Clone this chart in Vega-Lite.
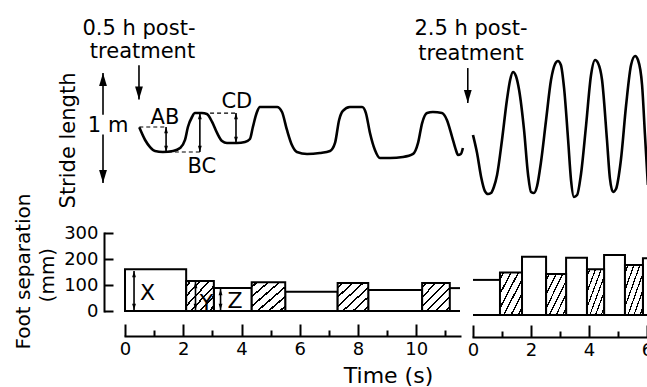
{
  "$schema": "https://vega.github.io/schema/vega-lite/v6.json",
  "width": 647,
  "height": 387,
  "autosize": "none",
  "padding": 0,
  "background": "white",
  "config": {
    "view": {"stroke": null},
    "font": "DejaVu Sans",
    "axis": {"grid": false, "domainColor": "black", "tickColor": "black", "labelColor": "black", "titleColor": "black", "domainWidth": 2, "tickWidth": 2, "labelFontSize": 18, "titleFontWeight": "normal", "labelFlush": false, "labelOverlap": false, "domainCap": "square", "titleLimit": 500, "labelLimit": 200},
    "text": {"font": "DejaVu Sans", "color": "black"}
  },
  "datasets": {
    "curve": [
      {"session": "0.5 h", "t": 0.49, "val": 0.506}, {"session": "0.5 h", "t": 0.69, "val": 0.391}, {"session": "0.5 h", "t": 0.86, "val": 0.327}, {"session": "0.5 h", "t": 1.03, "val": 0.291}, {"session": "0.5 h", "t": 1.30, "val": 0.282}, {"session": "0.5 h", "t": 1.65, "val": 0.291}, {"session": "0.5 h", "t": 1.89, "val": 0.318}, {"session": "0.5 h", "t": 2.06, "val": 0.391}, {"session": "0.5 h", "t": 2.16, "val": 0.509}, {"session": "0.5 h", "t": 2.30, "val": 0.600}, {"session": "0.5 h", "t": 2.40, "val": 0.636}, {"session": "0.5 h", "t": 2.64, "val": 0.636}, {"session": "0.5 h", "t": 2.81, "val": 0.627}, {"session": "0.5 h", "t": 2.99, "val": 0.555}, {"session": "0.5 h", "t": 3.16, "val": 0.455}, {"session": "0.5 h", "t": 3.33, "val": 0.382}, {"session": "0.5 h", "t": 3.50, "val": 0.364}, {"session": "0.5 h", "t": 3.84, "val": 0.364}, {"session": "0.5 h", "t": 4.12, "val": 0.373}, {"session": "0.5 h", "t": 4.29, "val": 0.400}, {"session": "0.5 h", "t": 4.39, "val": 0.509}, {"session": "0.5 h", "t": 4.53, "val": 0.645}, {"session": "0.5 h", "t": 4.63, "val": 0.691}, {"session": "0.5 h", "t": 4.81, "val": 0.691}, {"session": "0.5 h", "t": 5.22, "val": 0.691}, {"session": "0.5 h", "t": 5.39, "val": 0.645}, {"session": "0.5 h", "t": 5.56, "val": 0.482}, {"session": "0.5 h", "t": 5.73, "val": 0.345}, {"session": "0.5 h", "t": 5.90, "val": 0.282}, {"session": "0.5 h", "t": 6.25, "val": 0.264}, {"session": "0.5 h", "t": 6.69, "val": 0.273}, {"session": "0.5 h", "t": 7.04, "val": 0.291}, {"session": "0.5 h", "t": 7.21, "val": 0.364}, {"session": "0.5 h", "t": 7.35, "val": 0.573}, {"session": "0.5 h", "t": 7.48, "val": 0.655}, {"session": "0.5 h", "t": 7.72, "val": 0.691}, {"session": "0.5 h", "t": 8.14, "val": 0.691}, {"session": "0.5 h", "t": 8.27, "val": 0.636}, {"session": "0.5 h", "t": 8.41, "val": 0.455}, {"session": "0.5 h", "t": 8.58, "val": 0.300}, {"session": "0.5 h", "t": 8.75, "val": 0.227}, {"session": "0.5 h", "t": 9.10, "val": 0.227}, {"session": "0.5 h", "t": 9.54, "val": 0.236}, {"session": "0.5 h", "t": 9.89, "val": 0.264}, {"session": "0.5 h", "t": 10.06, "val": 0.364}, {"session": "0.5 h", "t": 10.20, "val": 0.545}, {"session": "0.5 h", "t": 10.37, "val": 0.636}, {"session": "0.5 h", "t": 10.57, "val": 0.645}, {"session": "0.5 h", "t": 10.88, "val": 0.636}, {"session": "0.5 h", "t": 11.05, "val": 0.573}, {"session": "0.5 h", "t": 11.23, "val": 0.418}, {"session": "0.5 h", "t": 11.36, "val": 0.300}, {"session": "0.5 h", "t": 11.43, "val": 0.255}, {"session": "0.5 h", "t": 11.53, "val": 0.264}, {"session": "0.5 h", "t": 11.60, "val": 0.318},
      {"session": "2.5 h", "t": 0.00, "val": 0.436}, {"session": "2.5 h", "t": 0.14, "val": 0.273}, {"session": "2.5 h", "t": 0.28, "val": 0.055}, {"session": "2.5 h", "t": 0.41, "val": -0.073}, {"session": "2.5 h", "t": 0.52, "val": -0.100}, {"session": "2.5 h", "t": 0.62, "val": -0.091}, {"session": "2.5 h", "t": 0.72, "val": -0.036}, {"session": "2.5 h", "t": 0.83, "val": 0.073}, {"session": "2.5 h", "t": 1.00, "val": 0.391}, {"session": "2.5 h", "t": 1.17, "val": 0.755}, {"session": "2.5 h", "t": 1.28, "val": 0.936}, {"session": "2.5 h", "t": 1.38, "val": 1.009}, {"session": "2.5 h", "t": 1.48, "val": 0.973}, {"session": "2.5 h", "t": 1.59, "val": 0.845}, {"session": "2.5 h", "t": 1.76, "val": 0.482}, {"session": "2.5 h", "t": 1.90, "val": 0.073}, {"session": "2.5 h", "t": 2.00, "val": -0.082}, {"session": "2.5 h", "t": 2.10, "val": -0.091}, {"session": "2.5 h", "t": 2.21, "val": -0.027}, {"session": "2.5 h", "t": 2.34, "val": 0.182}, {"session": "2.5 h", "t": 2.52, "val": 0.573}, {"session": "2.5 h", "t": 2.69, "val": 0.936}, {"session": "2.5 h", "t": 2.83, "val": 1.082}, {"session": "2.5 h", "t": 2.93, "val": 1.109}, {"session": "2.5 h", "t": 3.03, "val": 1.073}, {"session": "2.5 h", "t": 3.14, "val": 0.864}, {"session": "2.5 h", "t": 3.28, "val": 0.391}, {"session": "2.5 h", "t": 3.38, "val": 0.027}, {"session": "2.5 h", "t": 3.48, "val": -0.127}, {"session": "2.5 h", "t": 3.59, "val": -0.109}, {"session": "2.5 h", "t": 3.72, "val": 0.073}, {"session": "2.5 h", "t": 3.90, "val": 0.527}, {"session": "2.5 h", "t": 4.07, "val": 0.982}, {"session": "2.5 h", "t": 4.21, "val": 1.118}, {"session": "2.5 h", "t": 4.31, "val": 1.091}, {"session": "2.5 h", "t": 4.45, "val": 0.936}, {"session": "2.5 h", "t": 4.62, "val": 0.391}, {"session": "2.5 h", "t": 4.72, "val": 0.045}, {"session": "2.5 h", "t": 4.83, "val": -0.082}, {"session": "2.5 h", "t": 4.93, "val": -0.055}, {"session": "2.5 h", "t": 5.10, "val": 0.209}, {"session": "2.5 h", "t": 5.28, "val": 0.709}, {"session": "2.5 h", "t": 5.45, "val": 1.073}, {"session": "2.5 h", "t": 5.59, "val": 1.155}, {"session": "2.5 h", "t": 5.69, "val": 1.118}, {"session": "2.5 h", "t": 5.83, "val": 0.891}, {"session": "2.5 h", "t": 5.93, "val": 0.436}, {"session": "2.5 h", "t": 6.03, "val": -0.018}
    ],
    "steps": [
      {"session": "0.5 h", "t": 0.0, "t_end": 2.1, "val": 161, "lead": "right", "complete": true},
      {"session": "0.5 h", "t": 2.1, "t_end": 3.05, "val": 115, "lead": "left", "complete": true},
      {"session": "0.5 h", "t": 3.05, "t_end": 4.35, "val": 88, "lead": "right", "complete": true},
      {"session": "0.5 h", "t": 4.35, "t_end": 5.5, "val": 111, "lead": "left", "complete": true},
      {"session": "0.5 h", "t": 5.5, "t_end": 7.3, "val": 74, "lead": "right", "complete": true},
      {"session": "0.5 h", "t": 7.3, "t_end": 8.35, "val": 108, "lead": "left", "complete": true},
      {"session": "0.5 h", "t": 8.35, "t_end": 10.2, "val": 81, "lead": "right", "complete": true},
      {"session": "0.5 h", "t": 10.2, "t_end": 11.15, "val": 108, "lead": "left", "complete": true},
      {"session": "0.5 h", "t": 11.15, "t_end": 11.5, "val": 88, "lead": "right", "complete": false},
      {"session": "2.5 h", "t": 0.0, "t_end": 0.93, "val": 135, "lead": "right", "complete": false},
      {"session": "2.5 h", "t": 0.93, "t_end": 1.69, "val": 163, "lead": "left", "complete": true},
      {"session": "2.5 h", "t": 1.69, "t_end": 2.52, "val": 224, "lead": "right", "complete": true},
      {"session": "2.5 h", "t": 2.52, "t_end": 3.21, "val": 158, "lead": "left", "complete": true},
      {"session": "2.5 h", "t": 3.21, "t_end": 3.93, "val": 220, "lead": "right", "complete": true},
      {"session": "2.5 h", "t": 3.93, "t_end": 4.52, "val": 176, "lead": "left", "complete": true},
      {"session": "2.5 h", "t": 4.52, "t_end": 5.24, "val": 231, "lead": "right", "complete": true},
      {"session": "2.5 h", "t": 5.24, "t_end": 5.86, "val": 192, "lead": "left", "complete": true},
      {"session": "2.5 h", "t": 5.86, "t_end": 6.6, "val": 218, "lead": "right", "complete": true}
    ],
    "arrows": [
      {"session": "0.5 h", "panel": "stride", "t": 0.48, "val": 1.07, "val_end": 0.76, "heads": "one"},
      {"session": "0.5 h", "panel": "stride", "t": -0.755, "val": 0.62, "val_end": 1.0, "heads": "one"},
      {"session": "0.5 h", "panel": "stride", "t": -0.755, "val": 0.44, "val_end": 0.0, "heads": "one"},
      {"session": "0.5 h", "panel": "stride", "t": 1.41, "val": 0.282, "val_end": 0.509, "heads": "both"},
      {"session": "0.5 h", "panel": "stride", "t": 2.57, "val": 0.282, "val_end": 0.636, "heads": "both"},
      {"session": "0.5 h", "panel": "stride", "t": 3.81, "val": 0.364, "val_end": 0.636, "heads": "both"},
      {"session": "0.5 h", "panel": "foot", "t": 0.31, "val": 4, "val_end": 154, "heads": "both"},
      {"session": "0.5 h", "panel": "foot", "t": 2.42, "val": 4, "val_end": 112, "heads": "both"},
      {"session": "0.5 h", "panel": "foot", "t": 3.28, "val": 4, "val_end": 85, "heads": "both"},
      {"session": "2.5 h", "panel": "stride", "t": -0.18, "val": 1.045, "val_end": 0.727, "heads": "one"}
    ],
    "guides": [
      {"session": "0.5 h", "t": 0.49, "t_end": 1.44, "val": 0.509},
      {"session": "0.5 h", "t": 1.47, "t_end": 2.6, "val": 0.282},
      {"session": "0.5 h", "t": 2.92, "t_end": 3.85, "val": 0.636}
    ],
    "labels": [
      {"session": "0.5 h", "panel": "stride", "t": 0.48, "val": 1.345, "text": "0.5 h post-"},
      {"session": "0.5 h", "panel": "stride", "t": 0.6, "val": 1.136, "text": "treatment"},
      {"session": "2.5 h", "panel": "stride", "t": -0.07, "val": 1.345, "text": "2.5 h post-"},
      {"session": "2.5 h", "panel": "stride", "t": -0.07, "val": 1.118, "text": "treatment"},
      {"session": "0.5 h", "panel": "stride", "t": -0.58, "val": 0.464, "text": "1 m"},
      {"session": "0.5 h", "panel": "stride", "t": 1.37, "val": 0.536, "text": "AB"},
      {"session": "0.5 h", "panel": "stride", "t": 2.64, "val": 0.091, "text": "BC"},
      {"session": "0.5 h", "panel": "stride", "t": 3.84, "val": 0.682, "text": "CD"},
      {"session": "0.5 h", "panel": "foot", "t": 0.77, "val": 42, "text": "X"},
      {"session": "0.5 h", "panel": "foot", "t": 2.8, "val": 4, "text": "Y"},
      {"session": "0.5 h", "panel": "foot", "t": 3.78, "val": 11, "text": "Z"}
    ],
    "units": [
      {"panel": "foot", "t": -2.44, "val": 138, "text": "(mm)"}
    ]
  },
  "layer": [
    {
      "encoding": {
        "x": {"field": "t", "type": "quantitative", "scale": {"domain": [0, 11.5], "range": [125, 460], "nice": false, "zero": false}, "axis": null},
        "y": {"field": "val", "type": "quantitative", "scale": {"domain": [0, 1], "range": [183, 73], "nice": false, "zero": false},
          "axis": {"orient": "left", "domain": false, "ticks": false, "labels": false, "title": "Stride length", "titleX": 74, "titleY": 140, "titleAngle": -90, "titleAlign": "center", "titleBaseline": "alphabetic", "titleFontSize": 21}}
      },
      "layer": [
        {"data": {"name": "curve"}, "transform": [{"filter": "datum.session === '0.5 h'"}],
         "mark": {"type": "line", "color": "black", "strokeWidth": 2.6, "interpolate": "monotone"}},
        {"data": {"name": "guides"}, "transform": [{"filter": "datum.session === '0.5 h'"}],
         "mark": {"type": "rule", "color": "black", "strokeWidth": 1.2, "strokeDash": [4, 3]},
         "encoding": {"x2": {"field": "t_end"}}},
        {"data": {"name": "arrows"}, "transform": [{"filter": "datum.session === '0.5 h' && datum.panel === 'stride'"}],
         "mark": {"type": "rule", "color": "black", "strokeWidth": 1.6},
         "encoding": {"y2": {"field": "val_end"}}},
        {"data": {"name": "arrows"}, "transform": [{"filter": "datum.session === '0.5 h' && datum.panel === 'stride'"}],
         "mark": {"type": "point", "filled": true, "color": "black", "opacity": 1, "strokeWidth": 0},
         "encoding": {"y": {"field": "val_end", "type": "quantitative"},
           "shape": {"condition": {"test": "datum.val_end > datum.val", "value": "M-0.6,2L0,0L0.6,2Z"}, "value": "M-0.6,-2L0,0L0.6,-2Z"},
           "size": {"condition": {"test": "datum.heads === 'both'", "value": 40}, "value": 169}}},
        {"data": {"name": "arrows"}, "transform": [{"filter": "datum.session === '0.5 h' && datum.panel === 'stride' && datum.heads === 'both'"}],
         "mark": {"type": "point", "filled": true, "color": "black", "opacity": 1, "strokeWidth": 0, "size": 40},
         "encoding": {
           "shape": {"condition": {"test": "datum.val > datum.val_end", "value": "M-0.6,2L0,0L0.6,2Z"}, "value": "M-0.6,-2L0,0L0.6,-2Z"}}},
        {"data": {"name": "labels"}, "transform": [{"filter": "datum.session === '0.5 h' && datum.panel === 'stride'"}],
         "mark": {"type": "text", "align": "center", "baseline": "alphabetic", "fontSize": 21, "color": "black"},
         "encoding": {"text": {"field": "text"}}}
      ]
    },
    {
      "encoding": {
        "x": {"field": "t", "type": "quantitative", "scale": {"domain": [0, 11.5], "range": [125, 460], "nice": false, "zero": false},
          "axis": {"orient": "bottom", "offset": -51, "values": [0, 1, 2, 3, 4, 5, 6, 7, 8, 9, 10, 11],
            "tickSize": {"condition": {"test": "datum.value % 2 === 0", "value": -12}, "value": -6},
            "labelPadding": 16, "labelExpr": "datum.value % 2 === 0 ? datum.label : ''", "labelFontSize": 18,
            "title": "Time (s)", "titleX": 388, "titleY": 46, "titleAlign": "center", "titleBaseline": "alphabetic", "titleAngle": 0, "titleFontSize": 22}},
        "y": {"field": "val", "type": "quantitative", "scale": {"domain": [0, 300], "range": [311, 233], "nice": false, "zero": false},
          "axis": {"orient": "left", "offset": -104, "values": [0, 100, 200, 300], "tickSize": -9, "labelPadding": 15, "labelFontSize": 18,
            "title": "Foot separation", "titleX": -75, "titleY": 271, "titleAngle": -90, "titleAlign": "center", "titleBaseline": "alphabetic", "titleFontSize": 20, "titleLimit": 500}}
      },
      "layer": [
        {"data": {"name": "steps"}, "transform": [{"filter": "datum.session === '0.5 h' && datum.complete && datum.lead === 'right'"}],
         "mark": {"type": "rect", "fill": "white", "stroke": "black", "strokeWidth": 2},
         "encoding": {"x2": {"field": "t_end"}, "y2": {"datum": 0}}},
        {"data": {"name": "steps"}, "transform": [{"filter": "datum.session === '0.5 h' && datum.complete && datum.lead === 'left'"}],
         "mark": {"type": "rect", "stroke": "black", "strokeWidth": 2,
           "fill": {"gradient": "linear", "x1": 0, "y1": 0, "x2": 1, "y2": 1, "stops": [
             {"offset": 0, "color": "white"},
             {"offset": 0.065, "color": "white"}, {"offset": 0.065, "color": "black"}, {"offset": 0.101, "color": "black"}, {"offset": 0.101, "color": "white"},
             {"offset": 0.232, "color": "white"}, {"offset": 0.232, "color": "black"}, {"offset": 0.268, "color": "black"}, {"offset": 0.268, "color": "white"},
             {"offset": 0.399, "color": "white"}, {"offset": 0.399, "color": "black"}, {"offset": 0.435, "color": "black"}, {"offset": 0.435, "color": "white"},
             {"offset": 0.565, "color": "white"}, {"offset": 0.565, "color": "black"}, {"offset": 0.601, "color": "black"}, {"offset": 0.601, "color": "white"},
             {"offset": 0.732, "color": "white"}, {"offset": 0.732, "color": "black"}, {"offset": 0.768, "color": "black"}, {"offset": 0.768, "color": "white"},
             {"offset": 0.899, "color": "white"}, {"offset": 0.899, "color": "black"}, {"offset": 0.935, "color": "black"}, {"offset": 0.935, "color": "white"},
             {"offset": 1, "color": "white"}]}},
         "encoding": {"x2": {"field": "t_end"}, "y2": {"datum": 0}}},
        {"data": {"name": "steps"}, "transform": [{"filter": "datum.session === '0.5 h' && !datum.complete"}],
         "mark": {"type": "rule", "color": "black", "strokeWidth": 2},
         "encoding": {"x2": {"field": "t_end"}}},
        {"data": {"name": "steps"}, "transform": [{"filter": "datum.session === '0.5 h'"}],
         "mark": {"type": "rule", "color": "black", "strokeWidth": 2},
         "encoding": {"x2": {"field": "t_end"}, "y": {"datum": 0}}},
        {"data": {"name": "arrows"}, "transform": [{"filter": "datum.session === '0.5 h' && datum.panel === 'foot'"}],
         "mark": {"type": "rule", "color": "black", "strokeWidth": 1.6},
         "encoding": {"y2": {"field": "val_end"}}},
        {"data": {"name": "arrows"}, "transform": [{"filter": "datum.session === '0.5 h' && datum.panel === 'foot'"}],
         "mark": {"type": "point", "filled": true, "color": "black", "opacity": 1, "strokeWidth": 0, "size": 40},
         "encoding": {"y": {"field": "val_end", "type": "quantitative"},
           "shape": {"condition": {"test": "datum.val_end > datum.val", "value": "M-0.6,2L0,0L0.6,2Z"}, "value": "M-0.6,-2L0,0L0.6,-2Z"}}},
        {"data": {"name": "arrows"}, "transform": [{"filter": "datum.session === '0.5 h' && datum.panel === 'foot' && datum.heads === 'both'"}],
         "mark": {"type": "point", "filled": true, "color": "black", "opacity": 1, "strokeWidth": 0, "size": 40},
         "encoding": {
           "shape": {"condition": {"test": "datum.val > datum.val_end", "value": "M-0.6,2L0,0L0.6,2Z"}, "value": "M-0.6,-2L0,0L0.6,-2Z"}}},
        {"data": {"name": "labels"}, "transform": [{"filter": "datum.session === '0.5 h' && datum.panel === 'foot'"}],
         "mark": {"type": "text", "align": "center", "baseline": "alphabetic", "fontSize": 22, "color": "black"},
         "encoding": {"text": {"field": "text"}}},
        {"data": {"name": "units"},
         "mark": {"type": "text", "align": "center", "baseline": "alphabetic", "angle": 270, "fontSize": 20, "color": "black"},
         "encoding": {"text": {"field": "text"}}}
      ]
    },
    {
      "encoding": {
        "x": {"field": "t", "type": "quantitative", "scale": {"domain": [0, 6], "range": [473, 647], "nice": false, "zero": false}, "axis": null},
        "y": {"field": "val", "type": "quantitative", "scale": {"domain": [0, 1], "range": [183, 73], "nice": false, "zero": false}, "axis": null}
      },
      "layer": [
        {"data": {"name": "curve"}, "transform": [{"filter": "datum.session === '2.5 h'"}],
         "mark": {"type": "line", "color": "black", "strokeWidth": 2.6, "interpolate": "monotone"}},
        {"data": {"name": "arrows"}, "transform": [{"filter": "datum.session === '2.5 h' && datum.panel === 'stride'"}],
         "mark": {"type": "rule", "color": "black", "strokeWidth": 1.6},
         "encoding": {"y2": {"field": "val_end"}}},
        {"data": {"name": "arrows"}, "transform": [{"filter": "datum.session === '2.5 h' && datum.panel === 'stride'"}],
         "mark": {"type": "point", "filled": true, "color": "black", "opacity": 1, "strokeWidth": 0, "size": 169},
         "encoding": {"y": {"field": "val_end", "type": "quantitative"},
           "shape": {"condition": {"test": "datum.val_end > datum.val", "value": "M-0.6,2L0,0L0.6,2Z"}, "value": "M-0.6,-2L0,0L0.6,-2Z"}}},
        {"data": {"name": "labels"}, "transform": [{"filter": "datum.session === '2.5 h' && datum.panel === 'stride'"}],
         "mark": {"type": "text", "align": "center", "baseline": "alphabetic", "fontSize": 21, "color": "black"},
         "encoding": {"text": {"field": "text"}}}
      ]
    },
    {
      "encoding": {
        "x": {"field": "t", "type": "quantitative", "scale": {"domain": [0, 6], "range": [473, 647], "nice": false, "zero": false},
          "axis": {"orient": "bottom", "offset": -50, "values": [0, 1, 2, 3, 4, 5, 6],
            "tickSize": {"condition": {"test": "datum.value % 2 === 0", "value": -12}, "value": -6},
            "labelPadding": 16, "labelExpr": "datum.value % 2 === 0 ? datum.label : ''", "labelFontSize": 18, "title": null}},
        "y": {"field": "val", "type": "quantitative", "scale": {"domain": [0, 300], "range": [315, 237], "nice": false, "zero": false}, "axis": null}
      },
      "layer": [
        {"data": {"name": "steps"}, "transform": [{"filter": "datum.session === '2.5 h' && datum.complete && datum.lead === 'right'"}],
         "mark": {"type": "rect", "fill": "white", "stroke": "black", "strokeWidth": 2, "clip": true},
         "encoding": {"x2": {"field": "t_end"}, "y2": {"datum": 0}}},
        {"data": {"name": "steps"}, "transform": [{"filter": "datum.session === '2.5 h' && datum.complete && datum.lead === 'left'"}],
         "mark": {"type": "rect", "stroke": "black", "strokeWidth": 2, "clip": true,
           "fill": {"gradient": "linear", "x1": 0, "y1": 0, "x2": 1, "y2": 1, "stops": [
             {"offset": 0, "color": "white"},
             {"offset": 0.065, "color": "white"}, {"offset": 0.065, "color": "black"}, {"offset": 0.101, "color": "black"}, {"offset": 0.101, "color": "white"},
             {"offset": 0.232, "color": "white"}, {"offset": 0.232, "color": "black"}, {"offset": 0.268, "color": "black"}, {"offset": 0.268, "color": "white"},
             {"offset": 0.399, "color": "white"}, {"offset": 0.399, "color": "black"}, {"offset": 0.435, "color": "black"}, {"offset": 0.435, "color": "white"},
             {"offset": 0.565, "color": "white"}, {"offset": 0.565, "color": "black"}, {"offset": 0.601, "color": "black"}, {"offset": 0.601, "color": "white"},
             {"offset": 0.732, "color": "white"}, {"offset": 0.732, "color": "black"}, {"offset": 0.768, "color": "black"}, {"offset": 0.768, "color": "white"},
             {"offset": 0.899, "color": "white"}, {"offset": 0.899, "color": "black"}, {"offset": 0.935, "color": "black"}, {"offset": 0.935, "color": "white"},
             {"offset": 1, "color": "white"}]}},
         "encoding": {"x2": {"field": "t_end"}, "y2": {"datum": 0}}},
        {"data": {"name": "steps"}, "transform": [{"filter": "datum.session === '2.5 h' && !datum.complete"}],
         "mark": {"type": "rule", "color": "black", "strokeWidth": 2},
         "encoding": {"x2": {"field": "t_end"}}},
        {"data": {"name": "steps"}, "transform": [{"filter": "datum.session === '2.5 h'"}],
         "mark": {"type": "rule", "color": "black", "strokeWidth": 2, "clip": true},
         "encoding": {"x2": {"field": "t_end"}, "y": {"datum": 0}}}
      ]
    }
  ],
  "resolve": {"scale": {"x": "independent", "y": "independent"}}
}
